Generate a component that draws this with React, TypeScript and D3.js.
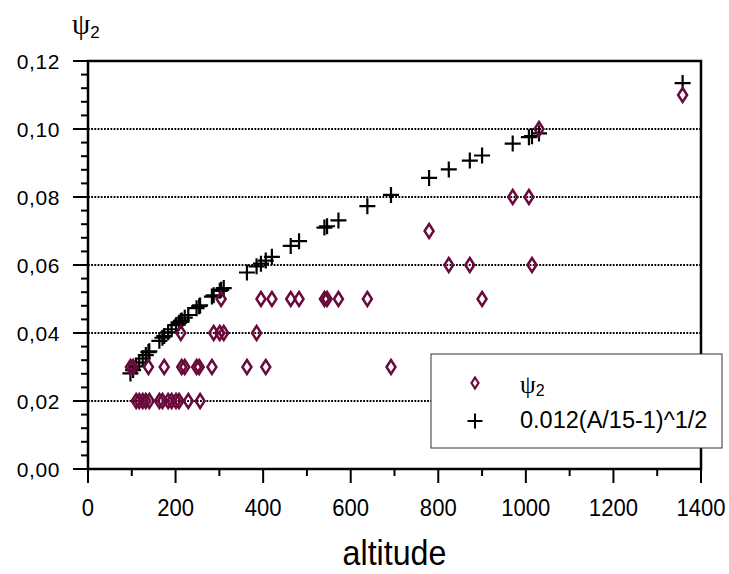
import React from "react";
import * as d3 from "d3";

// altitude of each station
const altitudes = [
  97, 103, 110, 117, 125, 132, 138, 140, 163, 170, 174, 183, 191, 201, 208, 212,
  214, 221, 229, 248, 254, 256, 283, 287, 301, 304, 310, 363, 385, 395, 406, 420,
  463, 482, 540, 546, 572, 638, 692, 779, 824, 872, 900, 970, 1007, 1014, 1030, 1358,
];
// measured psi2
const psi2 = [
  0.03, 0.03, 0.02, 0.02, 0.02, 0.02, 0.03, 0.02, 0.02, 0.02, 0.03, 0.02, 0.02, 0.02, 0.02, 0.04,
  0.03, 0.03, 0.02, 0.03, 0.03, 0.02, 0.03, 0.04, 0.04, 0.05, 0.04, 0.03, 0.04, 0.05, 0.03, 0.05,
  0.05, 0.05, 0.05, 0.05, 0.05, 0.05, 0.03, 0.07, 0.06, 0.06, 0.05, 0.08, 0.08, 0.06, 0.10, 0.11,
];
// 0.012(A/15-1)^1/2 values as read
const fitValues = [
  0.0281, 0.0291, 0.0302, 0.0313, 0.0325, 0.0335, 0.0344, 0.0346, 0.0377, 0.0386, 0.0391, 0.0402, 0.0411, 0.0423, 0.043, 0.0435,
  0.0437, 0.0445, 0.0453, 0.0473, 0.0479, 0.0481, 0.0507, 0.0511, 0.0524, 0.0527, 0.0532, 0.0578, 0.0596, 0.0604, 0.0613, 0.0624,
  0.0656, 0.067, 0.071, 0.0714, 0.0731, 0.0773, 0.0806, 0.0856, 0.0881, 0.0907, 0.0922, 0.0957, 0.0976, 0.0979, 0.0987, 0.1135,
];
const xTicks = [0, 200, 400, 600, 800, 1000, 1200, 1400];
const yTicks = [0, 0.02, 0.04, 0.06, 0.08, 0.1, 0.12];
const gridValues = [0.02, 0.04, 0.06, 0.08, 0.1];

const W = 729;
const H = 574;
const L = 88, R = 701, T = 61, B = 469;
const DIAMOND = "#6a0a3c";
const SANS = "Arial, 'Liberation Sans', sans-serif";
const SERIF = "'Times New Roman', 'Liberation Serif', serif";

const diamondPath = (cx: number, cy: number, w: number, h: number) =>
  `M${cx},${cy - h / 2}L${cx + w / 2},${cy}L${cx},${cy + h / 2}L${cx - w / 2},${cy}Z`;
const crossPath = (cx: number, cy: number, s: number) =>
  `M${cx - s / 2},${cy}H${cx + s / 2}M${cx},${cy - s / 2}V${cy + s / 2}`;

export default function App() {
  const x = d3.scaleLinear().domain([0, 1400]).range([L, R]);
  const y = d3.scaleLinear().domain([0, 0.12]).range([B, T]);
  const xMinor = d3.range(0, 1401, 100);
  const yMinor = d3.range(0, 0.1201, 0.004);
  const fmt = (v: number) => v.toFixed(2).replace(".", ",");
  const squeeze = (cx: number, s: number) => `translate(${cx},0) scale(${s},1) translate(${-cx},0)`;

  return (
    <svg width={W} height={H} style={{ position: "absolute", left: 0, top: 0, background: "#fff" }}>
      <rect x={0} y={0} width={W} height={H} fill="#fff" />
      {/* grid */}
      {gridValues.map((g) => (
        <line key={g} x1={L} x2={R} y1={y(g)} y2={y(g)} stroke="#000" strokeWidth={1.8} strokeDasharray="1.8,1.4" />
      ))}
      {/* ticks */}
      {xMinor.map((v) => (
        <line key={"xm" + v} x1={x(v)} x2={x(v)} y1={B} y2={B + (v % 200 === 0 ? 14 : 7)} stroke="#000" strokeWidth={2} />
      ))}
      {yMinor.map((v, i) => (
        <line key={"ym" + i} x1={L - (i % 5 === 0 ? 15 : 7)} x2={L} y1={y(v)} y2={y(v)} stroke="#000" strokeWidth={2} />
      ))}
      {/* frame */}
      <rect x={L} y={T} width={R - L} height={B - T} fill="none" stroke="#000" strokeWidth={2.5} />
      {/* tick labels */}
      {xTicks.map((v) => (
        <text key={"xt" + v} x={x(v)} y={516} textAnchor="middle" fontFamily={SANS} fontSize={24}
          transform={squeeze(x(v), 0.92)}>
          {v}
        </text>
      ))}
      {yTicks.map((v) => (
        <text key={"yt" + v} x={60} y={y(v) + 7.5} textAnchor="end" fontFamily={SANS} fontSize={21} letterSpacing={0.6}>
          {fmt(v)}
        </text>
      ))}
      {/* axis titles */}
      <text x={(L + R) / 2} y={565} textAnchor="middle" fontFamily={SANS} fontSize={35}
        transform={squeeze((L + R) / 2, 0.92)}>altitude</text>
      <text x={72} y={34} fontFamily={SERIF} fontSize={29}>ψ<tspan fontFamily={SANS} fontSize={17} dy={4}>2</tspan></text>
      {/* fit crosses */}
      {altitudes.map((a, i) => (
        <path key={"c" + i} d={crossPath(x(a), y(fitValues[i]), 16)} stroke="#000" strokeWidth={2.2} fill="none" />
      ))}
      {/* measured diamonds */}
      {altitudes.map((a, i) => (
        <path key={"d" + i} d={diamondPath(x(a), y(psi2[i]), 9, 14)} stroke={DIAMOND} strokeWidth={2.5} fill="none" />
      ))}
      {/* legend */}
      <rect x={431} y={354} width={291} height={94} fill="#fff" stroke="#333" strokeWidth={1} />
      <path d={diamondPath(475, 383, 7, 11)} stroke={DIAMOND} strokeWidth={2.2} fill="none" />
      <text x={520} y={393} fontFamily={SERIF} fontSize={25}>ψ<tspan fontFamily={SANS} fontSize={16} dy={3}>2</tspan></text>
      <path d={crossPath(475, 421, 15)} stroke="#000" strokeWidth={2} fill="none" />
      <text x={520} y={428} fontFamily={SANS} fontSize={23.5}>0.012(A/15-1)^1/2</text>
    </svg>
  );
}
